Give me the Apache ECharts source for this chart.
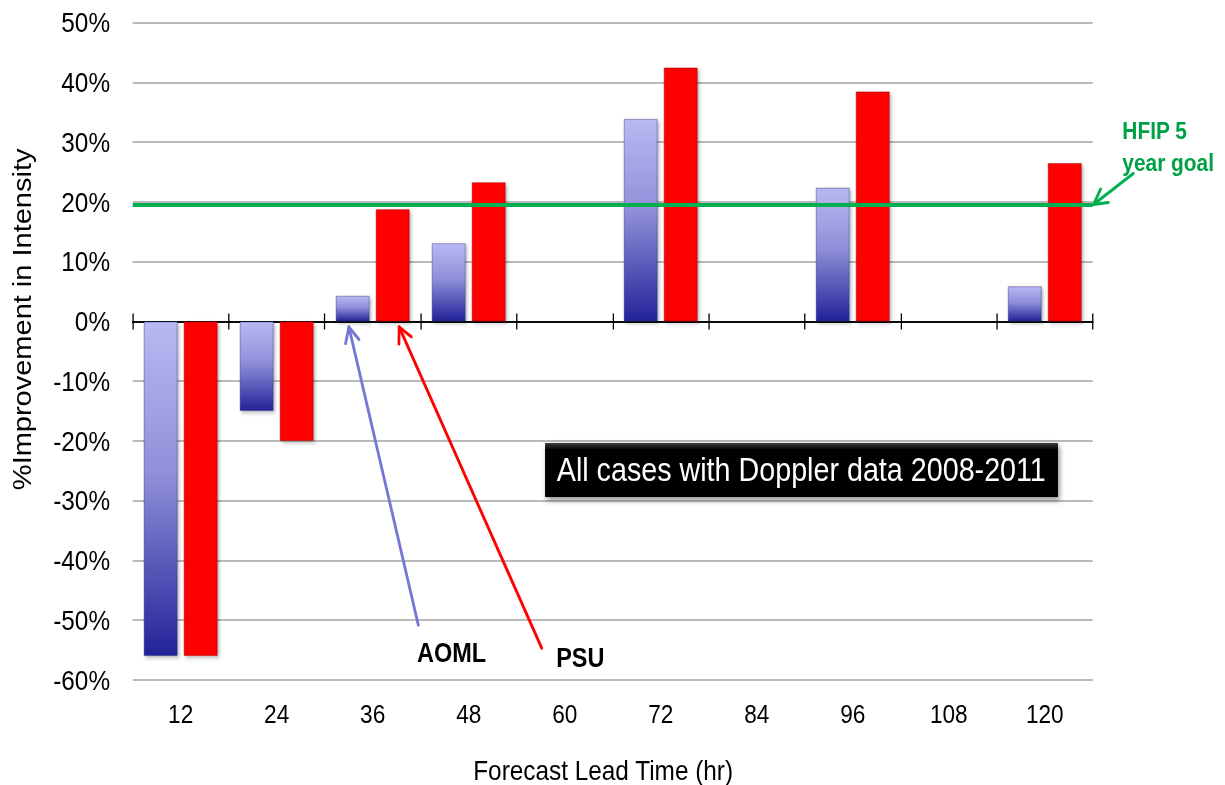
<!DOCTYPE html>
<html>
<head>
<meta charset="utf-8">
<script src="https://cdn.jsdelivr.net/npm/echarts@6/dist/echarts.min.js"></script>
<style>
  html, body { margin: 0; padding: 0; background: #fff; overflow: hidden; }
  #wrap { width: 1225px; height: 785px; overflow: hidden; }
  /* chart is laid out wide and squeezed horizontally, giving the narrow lettering */
  #chart { width: 1408px; height: 785px; transform: scaleX(0.87003); transform-origin: 0 0; }
</style>
</head>
<body>
<div id="wrap"><div id="chart"></div></div>
<script>
// Forecast lead times (hours)
const leadTimes = ['12', '24', '36', '48', '60', '72', '84', '96', '108', '120'];
// % improvement in intensity forecasts with Doppler data
const aomlImprovement = [-56, -15, 4.3, 13.1, null, 33.9, null, 22.4, null, 5.9];
const psuImprovement = [-56, -20, 18.8, 23.3, null, 42.5, null, 38.5, null, 26.5];
// HFIP 5 year goal line
const hfipGoal = [19.6];
// value axis ticks
const yMin = -60, yMax = 50, yStep = 10;

const FONT = "'Liberation Sans', Arial, Helvetica, sans-serif";
const chart = echarts.init(document.getElementById('chart'), null, { renderer: 'svg' });

const aomlFill = new echarts.graphic.LinearGradient(0, 0, 0, 1, [
  { offset: 0, color: '#B8B8F2' },
  { offset: 0.45, color: '#9090DA' },
  { offset: 1, color: '#23239A' }
]);

// open arrowhead drawn as two short strokes at the tip
function arrow(tail, tip, color) {
  const dx = tail[0] - tip[0], dy = tail[1] - tip[1];
  const len = Math.hypot(dx, dy), ux = dx / len, uy = dy / len;
  const a = 28 * Math.PI / 180, L = 17;
  const r = (s) => [tip[0] + L * (ux * Math.cos(s * a) - uy * Math.sin(s * a)),
                    tip[1] + L * (ux * Math.sin(s * a) + uy * Math.cos(s * a))];
  const style = { stroke: color, lineWidth: 3.2, lineCap: 'round', lineJoin: 'round', fill: null };
  return [
    { type: 'polyline', z: 50, shape: { points: [tail, tip] }, style },
    { type: 'polyline', z: 50, shape: { points: [r(1), tip, r(-1)] }, style }
  ];
}

const categoryAxisBase = { type: 'category', data: leadTimes, boundaryGap: true };

chart.setOption({
  animation: false,
  backgroundColor: '#fff',
  grid: { left: 152.5, right: 152, top: 22.7, bottom: 105, containLabel: false, outerBoundsMode: 'none' },
  xAxis: [
    Object.assign({}, categoryAxisBase, {
      position: 'bottom',
      axisLine: { show: false, onZero: false },
      axisTick: { show: false },
      axisLabel: { color: '#000', fontSize: 26, fontFamily: FONT, margin: 21 },
      name: 'Forecast Lead Time (hr)',
      nameLocation: 'middle',
      nameGap: 76,
      nameTextStyle: { color: '#000', fontSize: 28, fontFamily: FONT, padding: [0, 22, 0, 0] }
    }),
    Object.assign({}, categoryAxisBase, {
      position: 'bottom',
      axisLine: { show: true, onZero: true, onZeroAxisIndex: 0, lineStyle: { color: '#000', width: 1.5 } },
      axisTick: { show: true, length: 8, lineStyle: { color: '#000', width: 1.5 } },
      axisLabel: { show: false },
      splitLine: { show: false }
    }),
    Object.assign({}, categoryAxisBase, {
      position: 'top',
      axisLine: { show: true, onZero: true, onZeroAxisIndex: 1, lineStyle: { color: '#000', width: 1.5 } },
      axisTick: { show: true, length: 8, lineStyle: { color: '#000', width: 1.5 } },
      axisLabel: { show: false },
      splitLine: { show: false }
    })
  ],
  yAxis: [
    {
      type: 'value', min: yMin, max: yMax, interval: yStep,
      axisLine: { show: false },
      axisTick: { show: false },
      axisLabel: { formatter: '{value}%', color: '#000', fontSize: 28, fontFamily: FONT, margin: 26 },
      splitLine: { lineStyle: { color: '#A3A3A3', width: 1.6 } },
      name: '%Improvement in Intensity',
      nameLocation: 'middle',
      nameRotate: 90,
      nameGap: 113,
      nameTextStyle: { color: '#000', fontSize: 29, fontFamily: FONT, padding: [0, 0, 0, 64] }
    },
    { type: 'value', min: yMin, max: yMax, interval: yStep, show: false }
  ],
  series: [
    {
      name: 'AOML',
      type: 'bar',
      xAxisIndex: 0, yAxisIndex: 0,
      data: aomlImprovement,
      barWidth: 39,
      barGap: '18%',
      itemStyle: {
        color: aomlFill,
        borderColor: 'rgba(40,40,120,0.45)', borderWidth: 1,
        shadowColor: 'rgba(0,0,0,0.28)', shadowBlur: 4, shadowOffsetX: 2, shadowOffsetY: 2
      }
    },
    {
      name: 'PSU',
      type: 'bar',
      xAxisIndex: 0, yAxisIndex: 0,
      data: psuImprovement,
      barWidth: 39,
      barGap: '18%',
      itemStyle: {
        color: '#FF0000',
        borderColor: 'rgba(170,0,0,0.55)', borderWidth: 1,
        shadowColor: 'rgba(0,0,0,0.28)', shadowBlur: 4, shadowOffsetX: 2, shadowOffsetY: 2
      },
      markLine: {
        silent: true,
        symbol: ['none', 'none'],
        label: { show: false },
        z: 20,
        lineStyle: { color: '#00B050', width: 4.2, type: 'solid', opacity: 1 },
        data: hfipGoal.map(v => ({ yAxis: v }))
      }
    }
  ],
  graphic: [
    {
      type: 'rect', z: 40,
      shape: { x: 626.5, y: 443, width: 589.5, height: 54 },
      style: {
        fill: new echarts.graphic.LinearGradient(0, 0, 0, 1, [
          { offset: 0, color: '#3c3c3c' }, { offset: 0.12, color: '#050505' }, { offset: 1, color: '#000' }
        ]),
        shadowColor: 'rgba(0,0,0,0.45)', shadowBlur: 6, shadowOffsetX: 2, shadowOffsetY: 3
      }
    },
    {
      type: 'text', z: 41, x: 921, y: 470,
      style: { text: 'All cases with Doppler data 2008-2011', fill: '#fff', font: '33px ' + FONT,
               align: 'center', verticalAlign: 'middle' }
    },
    ...arrow([480.8, 625], [401, 327], '#7676D6'),
    ...arrow([622.6, 648], [458.8, 327], '#FF0000'),
    ...arrow([1302.6, 173.5], [1257, 204.3], '#00B050'),
    {
      type: 'text', z: 45, x: 519, y: 652,
      style: { text: 'AOML', fill: '#000', font: 'bold 27px ' + FONT, align: 'center', verticalAlign: 'middle' }
    },
    {
      type: 'text', z: 45, x: 667, y: 657,
      style: { text: 'PSU', fill: '#000', font: 'bold 27px ' + FONT, align: 'center', verticalAlign: 'middle' }
    },
    {
      type: 'text', z: 45, x: 1290, y: 131,
      style: { text: 'HFIP 5', fill: '#00A046', font: 'bold 24px ' + FONT, align: 'left', verticalAlign: 'middle' }
    },
    {
      type: 'text', z: 45, x: 1290, y: 163,
      style: { text: 'year goal', fill: '#00A046', font: 'bold 24px ' + FONT, align: 'left', verticalAlign: 'middle' }
    }
  ]
});
</script>
</body>
</html>
